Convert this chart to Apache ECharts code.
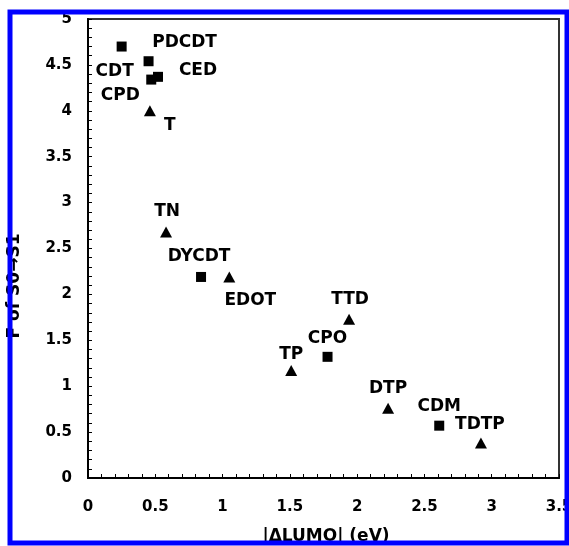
<!DOCTYPE html>
<html>
<head>
<meta charset="utf-8">
<script src="https://cdn.jsdelivr.net/npm/echarts@6/dist/echarts.min.js"></script>
<style>
  html, body { margin: 0; padding: 0; background: #fff; }
  #chart { width: 569px; height: 546px; }
</style>
</head>
<body>
<div id="chart"></div>
<script>
// Molecules: |ΔLUMO| (eV) against oscillator strength F of the S0→S1 transition
const names   = ['CDT', 'PDCDT', 'CED', 'CPD', 'T', 'TN', 'DYCDT', 'EDOT', 'TTD', 'CPO', 'TP', 'DTP', 'CDM', 'TDTP'];
const dLumo   = [0.25, 0.45, 0.52, 0.47, 0.46, 0.58, 0.84, 1.05, 1.94, 1.78, 1.51, 2.23, 2.61, 2.92];
const fValues = [4.70, 4.54, 4.37, 4.34, 4.00, 2.68, 2.19, 2.19, 1.73, 1.32, 1.17, 0.76, 0.57, 0.38];
// 'square' or 'triangle' marker for each molecule
const shapes  = ['square', 'square', 'square', 'square', 'triangle', 'triangle', 'square', 'triangle',
                 'triangle', 'square', 'triangle', 'triangle', 'square', 'triangle'];

const xTicks = { min: 0, max: 3.5, interval: 0.5 };
const yTicks = { min: 0, max: 5, interval: 0.5 };

// where each name sits relative to its marker (pixels)
const labelOffsets = {
  CDT: [-7, 25], PDCDT: [36, -19], CED: [40, -6], CPD: [-31, 16], T: [20, 15],
  TN: [1, -20], DYCDT: [-2, -20], EDOT: [21, 24], TTD: [1, -20], CPO: [0, -18],
  TP: [0, -16], DTP: [0, -20], CDM: [0, -19], TDTP: [-1, -19]
};

const FONT = 'DejaVu Sans';

function pointsOf(shape) {
  const out = [];
  names.forEach((n, i) => {
    if (shapes[i] !== shape) return;
    out.push({
      name: n,
      value: [dLumo[i], fValues[i]],
      label: { offset: labelOffsets[n] }
    });
  });
  return out;
}

const labelStyle = {
  show: true,
  position: 'inside',
  formatter: '{b}',
  color: '#000',
  fontFamily: FONT,
  fontWeight: 'bold',
  fontSize: 17
};

const chart = echarts.init(document.getElementById('chart'), null, { renderer: 'canvas' });
chart.setOption({
  animation: false,
  backgroundColor: '#fff',
  grid: {
    left: 88, right: 10, top: 19, bottom: 68,
    outerBoundsMode: 'none', containLabel: false,
    show: true, borderColor: '#333', borderWidth: 2, backgroundColor: 'transparent'
  },
  xAxis: {
    type: 'value',
    min: xTicks.min, max: xTicks.max, interval: xTicks.interval,
    axisLine: { show: true, onZero: false, lineStyle: { color: '#000', width: 2 } },
    axisTick: { show: true, inside: true, length: 4, lineStyle: { color: '#000' } },
    minorTick: { show: true, splitNumber: 5, length: 4, lineStyle: { color: '#000' } },
    splitLine: { show: false },
    axisLabel: {
      margin: 22, color: '#000', fontFamily: FONT, fontWeight: 'bold', fontSize: 15,
      formatter: v => String(v), showMaxLabel: true, hideOverlap: false
    }
  },
  yAxis: {
    type: 'value',
    min: yTicks.min, max: yTicks.max, interval: yTicks.interval,
    axisLine: { show: true, onZero: false, lineStyle: { color: '#000', width: 2 } },
    axisTick: { show: true, inside: true, length: 4, lineStyle: { color: '#000' } },
    minorTick: { show: true, splitNumber: 5, length: 4, lineStyle: { color: '#000' } },
    splitLine: { show: false },
    axisLabel: {
      margin: 16, color: '#000', fontFamily: FONT, fontWeight: 'bold', fontSize: 15,
      padding: [5, 0, 0, 0],
      formatter: v => String(v)
    }
  },
  series: [
    {
      type: 'scatter', symbol: 'rect', symbolSize: 10,
      itemStyle: { color: '#000', opacity: 1 },
      label: labelStyle,
      data: pointsOf('square')
    },
    {
      type: 'scatter', symbol: 'triangle', symbolSize: [12, 11],
      itemStyle: { color: '#000', opacity: 1 },
      label: labelStyle,
      data: pointsOf('triangle')
    }
  ],
  graphic: [
    {
      type: 'text', x: 326, y: 537, z: 10,
      style: {
        text: '|ΔLUMO| (eV)', fill: '#000', align: 'center', verticalAlign: 'middle',
        font: 'bold 17px "' + FONT + '"'
      }
    },
    {
      type: 'text', x: 15, y: 286, rotation: Math.PI / 2, z: 10,
      style: {
        text: 'F of S0→S1', fill: '#000', align: 'center', verticalAlign: 'middle',
        font: 'bold 17px "' + FONT + '"'
      }
    },
    {
      // outer blue frame
      type: 'rect', z: 100,
      shape: { x: 10, y: 12, width: 557, height: 531 },
      style: { fill: 'none', stroke: '#0000ff', lineWidth: 5 }
    }
  ]
});
</script>
</body>
</html>
